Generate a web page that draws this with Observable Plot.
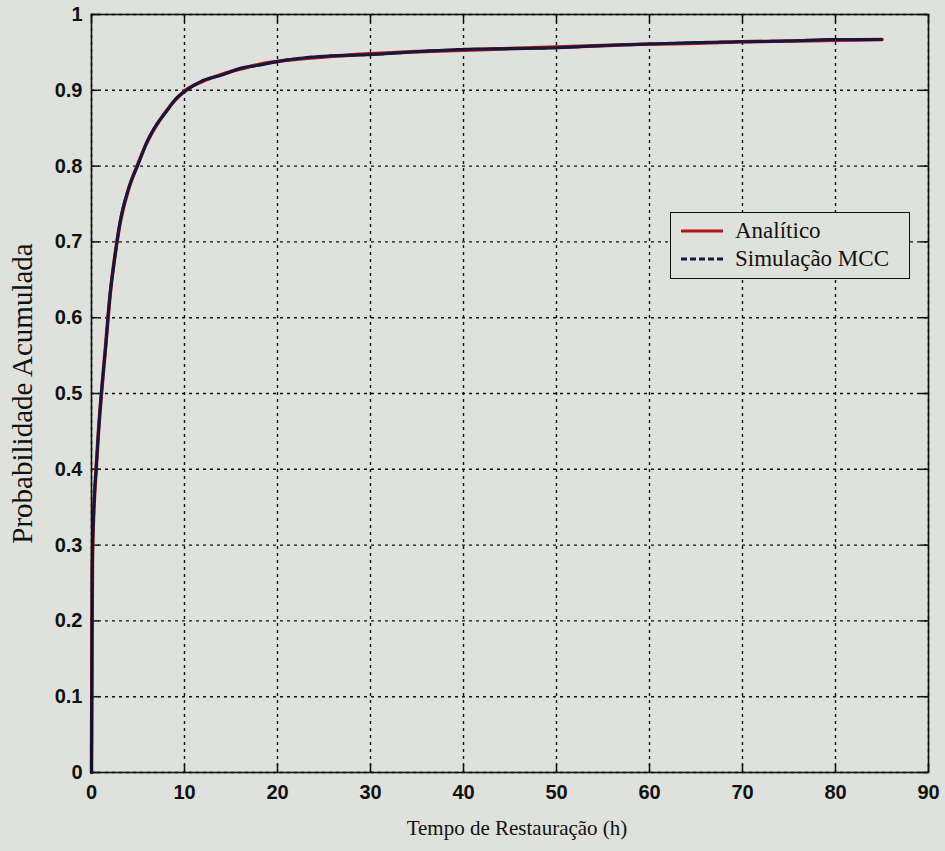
<!DOCTYPE html>
<html>
<head>
<meta charset="utf-8">
<script src="https://cdn.jsdelivr.net/npm/d3@7"></script>
<script src="https://cdn.jsdelivr.net/npm/@observablehq/plot@0.6"></script>
<style>
  html, body { margin: 0; padding: 0; background: #dfe1dd; }
  #wrap { position: relative; width: 945px; height: 851px; }
  #legend {
    position: absolute; left: 670px; top: 212px; width: 240px; height: 67px;
    box-sizing: border-box; border: 1.5px solid #111; background: #dfe1dd;
    font-family: "Liberation Serif", "Times New Roman", serif; font-size: 23px; color: #111;
    padding: 4px 0 0 10px; line-height: 28px;
  }
  #legend .row { display: flex; align-items: center; white-space: nowrap; }
  #legend svg { margin-right: 12px; }
</style>
</head>
<body>
<div id="wrap">
  <div id="chart"></div>
  <div id="legend"></div>
</div>
<script>
// Tempo de Restauração (h)
const tempo = [0, 0.05, 0.1, 0.2, 0.3, 0.5, 0.75, 1, 1.5, 2, 2.5, 3, 4, 5, 6, 7, 8, 9, 10, 12, 14, 16, 18, 20, 25, 30, 35, 40, 45, 50, 55, 60, 65, 70, 75, 80, 85];
// Probabilidade acumulada — Analítico
const analitico = [0, 0.15, 0.28, 0.33, 0.36, 0.40, 0.45, 0.49, 0.56, 0.63, 0.68, 0.72, 0.77, 0.803, 0.832, 0.854, 0.872, 0.887, 0.899, 0.912, 0.921, 0.928, 0.934, 0.938, 0.944, 0.948, 0.951, 0.953, 0.955, 0.957, 0.959, 0.961, 0.962, 0.964, 0.965, 0.966, 0.967];
// Probabilidade acumulada — Simulação MCC
const simulacao = [0, 0.151, 0.279, 0.331, 0.361, 0.401, 0.449, 0.491, 0.559, 0.631, 0.679, 0.721, 0.771, 0.802, 0.833, 0.855, 0.871, 0.888, 0.898, 0.913, 0.920, 0.929, 0.933, 0.938, 0.945, 0.947, 0.951, 0.954, 0.955, 0.956, 0.959, 0.961, 0.963, 0.964, 0.965, 0.967, 0.967];

const xTicks = [0, 10, 20, 30, 40, 50, 60, 70, 80, 90];
const yTicks = [0, 0.1, 0.2, 0.3, 0.4, 0.5, 0.6, 0.7, 0.8, 0.9, 1];
const seriesNames = ["Analítico", "Simulação MCC"];
const seriesColors = ["#b01515", "#16163e"];
const xLabel = "Tempo de Restauração (h)";
const yLabel = "Probabilidade Acumulada";

const dataA = tempo.map((t, i) => ({t, p: analitico[i]}));
const dataS = tempo.map((t, i) => ({t, p: simulacao[i]}));
const fmt = d3.format("~g");

// inward tick length, expressed as a fraction of each domain
const xDom = [0, 90], yDom = [0, 1];
const tickFracX = 8 / 837, tickFracY = 8 / 758;
const xTickLen = (xDom[1] - xDom[0]) * tickFracX;
const yTickLen = (yDom[1] - yDom[0]) * tickFracY;

const chart = Plot.plot({
  width: 945,
  height: 851,
  marginLeft: 91,
  marginRight: 17,
  marginTop: 14,
  marginBottom: 79,
  style: {background: "transparent", color: "#111"},
  x: {domain: xDom},
  y: {domain: yDom},
  marks: [
    Plot.gridX(xTicks, {stroke: "#111", strokeOpacity: 1, strokeWidth: 1.4, strokeDasharray: "3,4"}),
    Plot.gridY(yTicks, {stroke: "#111", strokeOpacity: 1, strokeWidth: 1.4, strokeDasharray: "3,4"}),
    Plot.axisX(xTicks, {tickSize: 0, tickPadding: 12, tickFormat: fmt, fontSize: 20, fontWeight: "bold", fontFamily: "Liberation Sans, Arial, sans-serif", label: null}),
    Plot.axisY(yTicks, {tickSize: 0, tickPadding: 9, tickFormat: fmt, fontSize: 20, fontWeight: "bold", fontFamily: "Liberation Sans, Arial, sans-serif", label: null}),
    Plot.ruleY(yTicks, {y: d => d, x1: xDom[0], x2: xDom[0] + xTickLen, stroke: "#111", strokeWidth: 1.5}),
    Plot.ruleY(yTicks, {y: d => d, x1: xDom[1] - xTickLen, x2: xDom[1], stroke: "#111", strokeWidth: 1.5}),
    Plot.ruleX(xTicks, {x: d => d, y1: yDom[0], y2: yDom[0] + yTickLen, stroke: "#111", strokeWidth: 1.5}),
    Plot.ruleX(xTicks, {x: d => d, y1: yDom[1] - yTickLen, y2: yDom[1], stroke: "#111", strokeWidth: 1.5}),
    Plot.line(dataA, {x: "t", y: "p", stroke: seriesColors[0], strokeWidth: 3.6, curve: "monotone-x"}),
    Plot.line(dataS, {x: "t", y: "p", stroke: seriesColors[1], strokeWidth: 3, strokeDasharray: "5,1", curve: "monotone-x"}),
    Plot.frame({stroke: "#111", strokeWidth: 1.6}),
    Plot.text([xLabel], {frameAnchor: "bottom", textAnchor: "middle", dx: 7, dy: 62, fontSize: 21, fontFamily: "Liberation Serif, Times New Roman, serif", fill: "#111"}),
    Plot.text([yLabel], {frameAnchor: "left", textAnchor: "middle", dx: -69, rotate: -90, fontSize: 29, fontFamily: "Liberation Serif, Times New Roman, serif", fill: "#111"})
  ]
});
document.getElementById("chart").appendChild(chart);

// legend
const legend = document.getElementById("legend");
seriesNames.forEach((name, i) => {
  const row = document.createElement("div");
  row.className = "row";
  const dash = i === 1 ? 'stroke-dasharray="6,3"' : "";
  row.innerHTML = `<svg width="42" height="10"><line x1="0" y1="5" x2="42" y2="5" stroke="${seriesColors[i]}" stroke-width="3" ${dash}/></svg><span>${name}</span>`;
  legend.appendChild(row);
});
</script>
</body>
</html>
